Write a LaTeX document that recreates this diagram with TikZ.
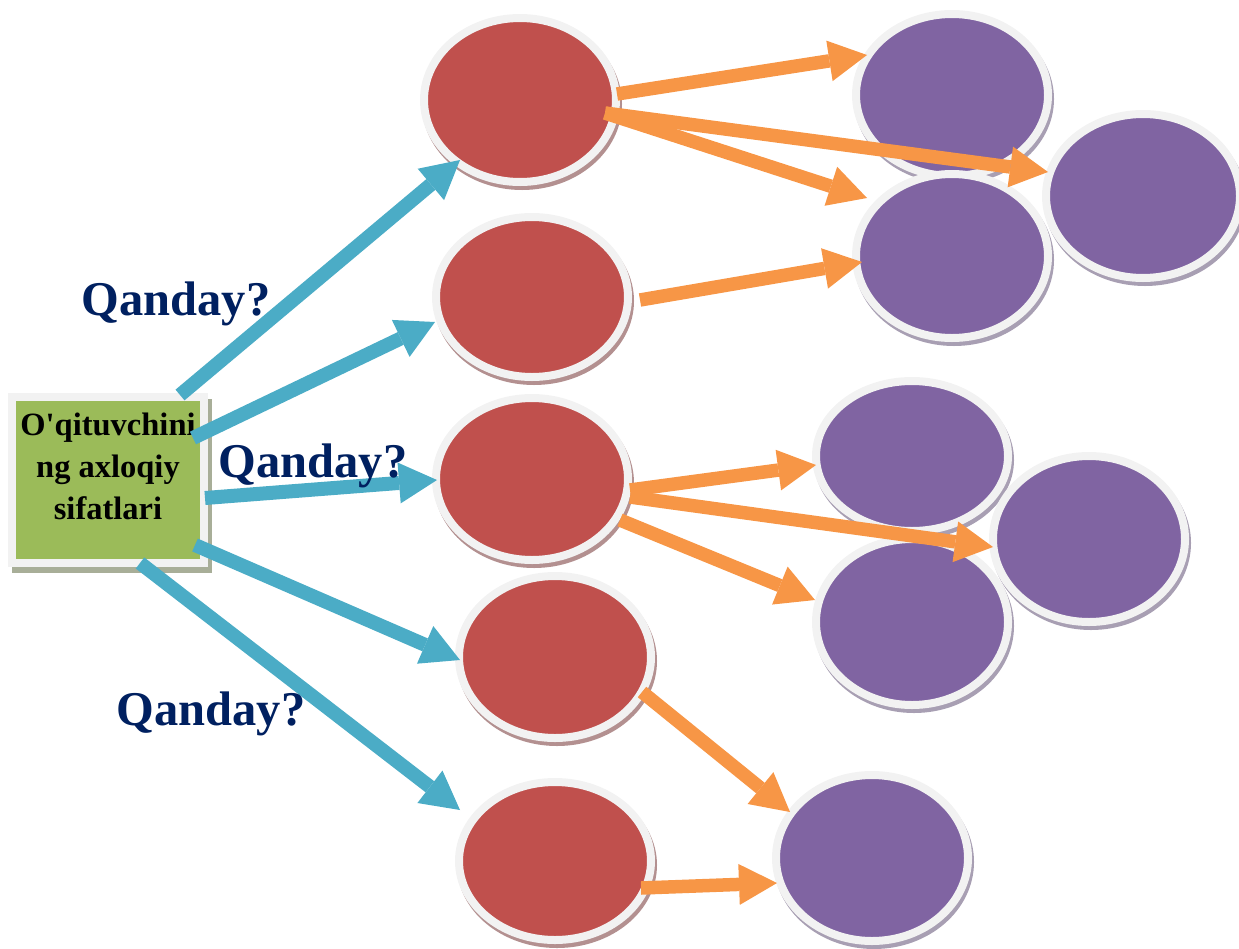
\documentclass[tikz,border=0pt]{standalone}
\usepackage{fontspec}
\setmainfont{Liberation Serif}
\usetikzlibrary{shapes.geometric,arrows.meta}
\definecolor{ringc}{HTML}{F2F2F2}
\definecolor{redc}{HTML}{C0504D}
\definecolor{redsh}{HTML}{B39090}
\definecolor{purc}{HTML}{8064A2}
\definecolor{pursh}{HTML}{A89FB3}
\definecolor{bluec}{HTML}{4BACC6}
\definecolor{orc}{HTML}{F79646}
\definecolor{greenc}{HTML}{9BBB59}
\definecolor{greensh}{HTML}{A8AE98}
\definecolor{navy}{HTML}{002060}
\begin{document}
\begin{tikzpicture}[x=1pt,y=-1pt,
  bubble/.style={ellipse, inner sep=0pt, minimum width=192pt, draw=ringc, line width=8pt},
  redb/.style={bubble, fill=redc, preaction={fill=redsh, draw=redsh, line width=8pt, transform canvas={xshift=2pt,yshift=-4pt}}},
  purb/.style={bubble, fill=purc, preaction={fill=pursh, draw=pursh, line width=8pt, transform canvas={xshift=2pt,yshift=-4pt}}},
  barrow/.style={draw=bluec, line width=14pt, -{Triangle[length=38pt,width=41pt,line width=0pt]}},
  oarrow/.style={draw=orc, line width=13.5pt, -{Triangle[length=38pt,width=41pt,line width=0pt]}},
  qlab/.style={font=\fontsize{48.5}{56}\selectfont\bfseries, text=navy, anchor=base, inner sep=0pt}]
\useasboundingbox (0,0) rectangle (1239,948);
% central box
\node[rectangle, minimum width=192pt, minimum height=166pt, inner sep=0pt,
      draw=ringc, line width=8pt, fill=greenc,
      preaction={fill=greensh, draw=greensh, line width=8pt, transform canvas={xshift=4pt,yshift=-6pt}}] (box) at (108,480) {};
\node[font=\fontsize{32.5}{42}\selectfont\bfseries, align=center, inner sep=0pt] (boxtext) at (108,466)
  {O\textquotesingle qituvchini\\ng axloqiy\\sifatlari};
% red bubbles
\node[redb, minimum height=164pt] (R1) at (520,100) {};
\node[redb, minimum height=160pt] (R2) at (532,297) {};
\node[redb, minimum height=162pt] (R3) at (532,479) {};
\node[redb, minimum height=162pt] (R4) at (555,657) {};
\node[redb, minimum height=158pt] (R5) at (555,861) {};
% purple bubbles
\node[purb, minimum height=162pt] (P1) at (952,95) {};
\node[purb, minimum height=164pt] (P3) at (952,256) {};
\node[purb, minimum height=164pt, minimum width=194pt] (P2) at (1143,196) {};
\node[purb, minimum height=150pt] (P4) at (912,456) {};
\node[purb, minimum height=166pt] (P6) at (912,622) {};
\node[purb, minimum height=166pt] (P5) at (1089,539) {};
\node[purb, minimum height=166pt] (P7) at (872,858) {};
% blue arrows
\draw[barrow] ([shift={(72,-85)}]box.center) -- ([shift={(-60,60)}]R1.center);
\draw[barrow] ([shift={(85,-42)}]box.center) -- ([shift={(-97,25)}]R2.center);
\draw[barrow] ([shift={(97,18)}]box.center) -- ([shift={(-95,1)}]R3.center);
\draw[barrow] ([shift={(87,65)}]box.center) -- ([shift={(-95,3)}]R4.center);
\draw[barrow] ([shift={(32,83)}]box.center) -- ([shift={(-95,-51)}]R5.center);
% orange arrows
\draw[oarrow] ([shift={(97,-6)}]R1.center) -- ([shift={(-85,-40)}]P1.center);
\draw[oarrow] ([shift={(85,13)}]R1.center) -- ([shift={(-95,-24)}]P2.center);
\draw[oarrow] ([shift={(85,13)}]R1.center) -- ([shift={(-85,-58)}]P3.center);
\draw[oarrow] ([shift={(108,3)}]R2.center) -- ([shift={(-90,6)}]P3.center);
\draw[oarrow] ([shift={(98,11)}]R3.center) -- ([shift={(-96,9)}]P4.center);
\draw[oarrow] ([shift={(98,18)}]R3.center) -- ([shift={(-96,8)}]P5.center);
\draw[oarrow] ([shift={(88,41)}]R3.center) -- ([shift={(-97,-22)}]P6.center);
\draw[oarrow] ([shift={(87,35)}]R4.center) -- ([shift={(-82,-46)}]P7.center);
\draw[oarrow] ([shift={(86,27)}]R5.center) -- ([shift={(-95,25)}]P7.center);
% labels
\node[qlab] (q1) at (176,315) {Qanday?};
\node[qlab] (q2) at (313,477) {Qanday?};
\node[qlab] (q3) at (211,725) {Qanday?};
\end{tikzpicture}
\end{document}
